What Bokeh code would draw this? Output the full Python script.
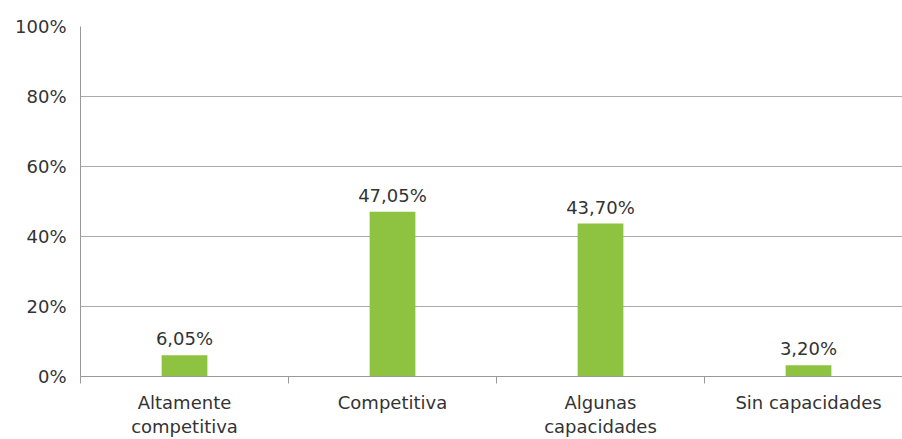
from bokeh.plotting import figure
from bokeh.models import FixedTicker, Range1d, ColumnDataSource, LabelSet
from bokeh.core.properties import value
from bokeh.embed import file_html
from bokeh.resources import INLINE

categories = ["Altamente\ncompetitiva", "Competitiva", "Algunas\ncapacidades", "Sin capacidades"]
values = [6.05, 47.05, 43.70, 3.20]
y_ticks = [0, 20, 40, 60, 80, 100]

FONT = "DejaVu Sans"
TXT = "#333333"
GRID = "#ababab"

xs = [i + 0.5 for i in range(len(categories))]
labels = [("%.2f" % v).replace(".", ",") + "%" for v in values]
src = ColumnDataSource(dict(x=xs, top=values, lab=labels))

p = figure(width=902, height=439, output_backend="svg", toolbar_location=None,
           x_range=Range1d(0, 822 / 208), y_range=Range1d(0, 100),
           min_border_left=80, min_border_top=26, min_border_right=0, min_border_bottom=0)
p.outline_line_color = None
p.background_fill_color = "white"
p.border_fill_color = "white"

p.vbar(x="x", top="top", width=0.22, bottom=0, source=src, color="#8dc341", line_color=None)

vals = LabelSet(x="x", y="top", text="lab", source=src, text_align="center",
                text_baseline="alphabetic", y_offset=10, text_font=value(FONT),
                text_font_size="18px", text_color=TXT)
p.add_layout(vals)

# x axis
p.xaxis.ticker = FixedTicker(ticks=xs, minor_ticks=list(range(len(categories) + 1)))
p.xaxis.major_label_overrides = {x: c for x, c in zip(xs, categories)}
p.xaxis.major_tick_line_color = None
p.xaxis.major_tick_out = 0
p.xaxis.major_tick_in = 0
p.xaxis.minor_tick_out = 7
p.xaxis.minor_tick_in = 0
p.xaxis.minor_tick_line_color = "#999999"
p.xaxis.axis_line_color = "#999999"
p.xaxis.major_label_standoff = 8
p.xaxis.major_label_text_font = FONT
p.xaxis.major_label_text_font_size = "18px"
p.xaxis.major_label_text_color = TXT
p.xaxis.major_label_text_line_height = 1.15

# y axis
p.yaxis.ticker = FixedTicker(ticks=y_ticks, minor_ticks=[])
p.yaxis.major_label_overrides = {t: "%d%%" % t for t in y_ticks}
p.yaxis.major_tick_line_color = None
p.yaxis.major_tick_out = 0
p.yaxis.major_tick_in = 0
p.yaxis.axis_line_color = "#999999"
p.yaxis.major_label_standoff = 14
p.yaxis.major_label_text_font = FONT
p.yaxis.major_label_text_font_size = "18px"
p.yaxis.major_label_text_color = TXT

p.xgrid.grid_line_color = None
p.ygrid.ticker = FixedTicker(ticks=y_ticks)
p.ygrid.grid_line_color = GRID
p.ygrid.grid_line_width = 1

open("out.html", "w").write(file_html(p, INLINE))
